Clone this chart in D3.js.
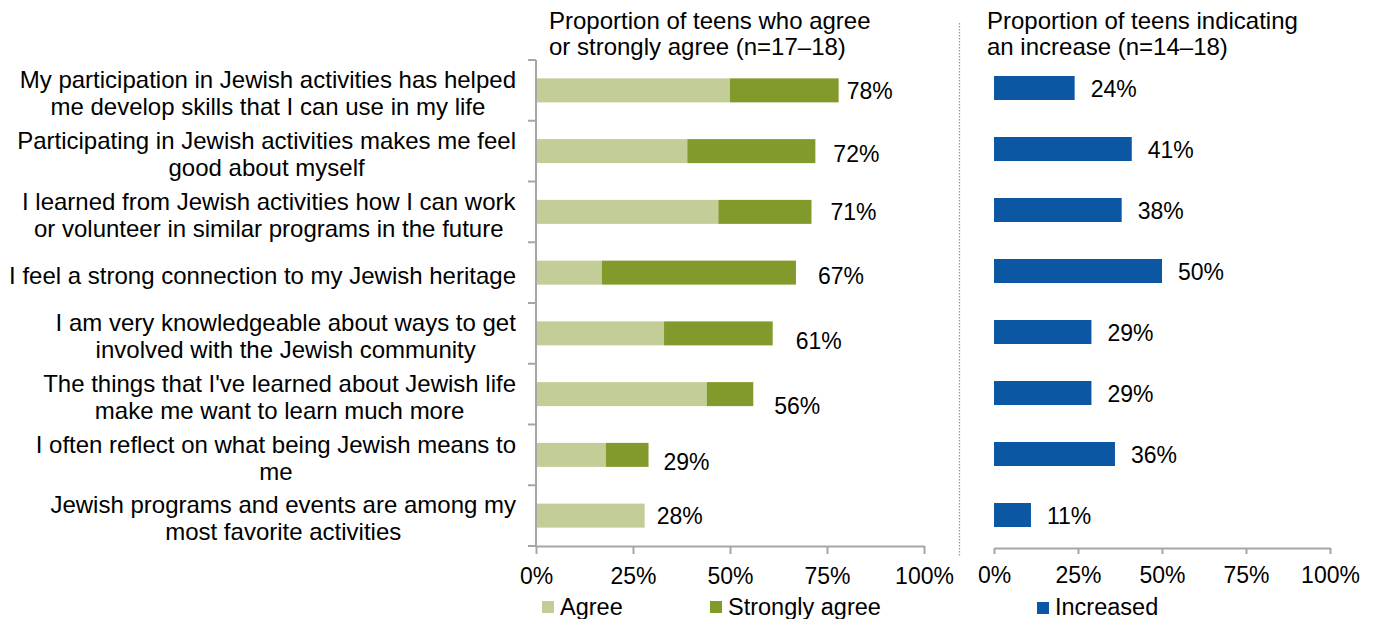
<!DOCTYPE html>
<html>
<head>
<meta charset="utf-8">
<script src="https://cdn.jsdelivr.net/npm/d3@7"></script>
<style>
  html, body { margin: 0; padding: 0; background: #fff; }
  svg { display: block; font-family: "Liberation Sans", Arial, sans-serif; }
</style>
</head>
<body>
<svg id="chart" width="1375" height="619"></svg>
<script>
// Survey statements (line breaks as wrapped in the layout)
const statements = [
  ["My participation in Jewish activities has helped", "me develop skills that I can use in my life"],
  ["Participating in Jewish activities makes me feel", "good about myself"],
  ["I learned from Jewish activities how I can work", "or volunteer in similar programs in the future"],
  ["I feel a strong connection to my Jewish heritage"],
  ["I am very knowledgeable about ways to get", "involved with the Jewish community"],
  ["The things that I've learned about Jewish life", "make me want to learn much more"],
  ["I often reflect on what being Jewish means to", "me"],
  ["Jewish programs and events are among my", "most favorite activities"]
];

// Percent who agree, and percent who agree or strongly agree (total)
const agree      = [50, 39, 47, 17, 33, 44, 18, 28];
const agreeTotal = [78, 72, 71, 67, 61, 56, 29, 28];
// Percent indicating an increase
const increased  = [24, 41, 38, 50, 29, 29, 36, 11];

const xTicks = [0, 25, 50, 75, 100];
const leftTitle  = ["Proportion of teens who agree", "or strongly agree (n=17\u201318)"];
const rightTitle = ["Proportion of teens indicating", "an increase (n=14\u201318)"];
const legendLeft  = ["Agree", "Strongly agree"];
const legendRight = ["Increased"];

// Hand-placed offsets of the total labels ([dx past bar end, dy from centre])
const totalLabelNudge = [[8,0],[18,3],[19,0],[22,3],[23,7],[21,12],[15,6.5],[12,0]];

const colors = { agree: "#c3cd97", strong: "#82992b", increased: "#0b57a4", axis: "#a6a6a6", text: "#000" };
const numFont = "23px";
const textFont = "24px";
const barH = 24;

const svg = d3.select("#chart");
const idx = d3.range(statements.length);

// ---------- Left panel ----------
const xL = d3.scaleLinear().domain([0, 100]).range([536, 924]);
const yL = d3.scaleBand().domain(idx).range([60, 546]);
const gL = svg.append("g");

// stacked bars
gL.selectAll("rect.agree").data(idx).join("rect")
  .attr("x", xL(0))
  .attr("y", i => yL(i) + (yL.bandwidth() - barH) / 2)
  .attr("width", i => xL(agree[i]) - xL(0))
  .attr("height", barH)
  .attr("fill", colors.agree);

gL.selectAll("rect.strong").data(idx.filter(i => agreeTotal[i] > agree[i])).join("rect")
  .attr("x", i => xL(agree[i]))
  .attr("y", i => yL(i) + (yL.bandwidth() - barH) / 2)
  .attr("width", i => xL(agreeTotal[i]) - xL(agree[i]))
  .attr("height", barH)
  .attr("fill", colors.strong);

// total labels
gL.selectAll("text.total").data(idx).join("text")
  .attr("x", i => xL(agreeTotal[i]) + totalLabelNudge[i][0])
  .attr("y", i => yL(i) + yL.bandwidth() / 2 + totalLabelNudge[i][1])
  .attr("dy", "0.36em")
  .attr("font-size", numFont)
  .attr("fill", colors.text)
  .text(i => agreeTotal[i] + "%");

// y axis line with tick marks between categories
const yAxisL = svg.append("g");
yAxisL.append("line")
  .attr("x1", xL(0)).attr("x2", xL(0))
  .attr("y1", yL.range()[0]).attr("y2", yL.range()[1])
  .attr("stroke", colors.axis).attr("stroke-width", 2);
const boundaries = idx.map(i => yL(i)).concat([yL.range()[1]]);
yAxisL.selectAll("line.tick").data(boundaries).join("line")
  .attr("x1", xL(0) - 8).attr("x2", xL(0))
  .attr("y1", d => d).attr("y2", d => d)
  .attr("stroke", colors.axis).attr("stroke-width", 2);

// x axis
const xAxisL = svg.append("g")
  .attr("transform", `translate(0,${yL.range()[1]})`)
  .call(d3.axisBottom(xL).tickValues(xTicks).tickFormat(d => d + "%").tickSize(8).tickSizeOuter(0));
xAxisL.select(".domain").attr("stroke", colors.axis).attr("stroke-width", 2);
xAxisL.selectAll(".tick line").attr("stroke", colors.axis).attr("stroke-width", 2);
xAxisL.selectAll(".tick text")
  .attr("font-size", numFont).attr("font-family", "Liberation Sans, Arial, sans-serif")
  .attr("fill", colors.text).attr("y", 38).attr("dy", 0);

// category labels: lines centred on each other, block right-aligned
const labelRight = 516;
const lineGap = 27;
statements.forEach((lines, i) => {
  const g = svg.append("g");
  const cy = yL(i) + yL.bandwidth() / 2 + 2.5;
  const t = g.append("text")
    .attr("text-anchor", "middle")
    .attr("font-size", textFont)
    .attr("fill", colors.text);
  lines.forEach((ln, k) => {
    t.append("tspan")
      .attr("x", 0)
      .attr("y", cy - (lines.length - 1) * lineGap / 2 + k * lineGap)
      .attr("dy", "0.36em")
      .text(ln);
  });
  const w = t.node().getBBox().width;
  g.attr("transform", `translate(${labelRight - w / 2},0)`);
});

// left title
svg.append("text")
  .attr("font-size", textFont).attr("fill", colors.text)
  .selectAll("tspan").data(leftTitle).join("tspan")
  .attr("x", 549).attr("y", (d, k) => 29 + k * 25.5)
  .text(d => d);

// left legend
const legL = svg.append("g");
[[542, colors.agree], [710, colors.strong]].forEach(([x, c], k) => {
  legL.append("rect").attr("x", x).attr("y", 601).attr("width", 12).attr("height", 12).attr("fill", c);
  legL.append("text").attr("x", x + 18).attr("y", 615)
    .attr("font-size", "23.5px").attr("fill", colors.text).text(legendLeft[k]);
});

// ---------- Separator ----------
svg.append("line")
  .attr("x1", 959.5).attr("x2", 959.5).attr("y1", 23).attr("y2", 556)
  .attr("stroke", "#9a9a9a").attr("stroke-width", 1.3).attr("stroke-dasharray", "1.5,1.5");

// ---------- Right panel ----------
const xR = d3.scaleLinear().domain([0, 100]).range([994, 1330]);
const yR = d3.scaleBand().domain(idx).range([57.5, 545.5]);
const gR = svg.append("g");

gR.selectAll("rect").data(idx).join("rect")
  .attr("x", xR(0))
  .attr("y", i => yR(i) + (yR.bandwidth() - barH) / 2)
  .attr("width", i => xR(increased[i]) - xR(0))
  .attr("height", barH)
  .attr("fill", colors.increased);

gR.selectAll("text").data(idx).join("text")
  .attr("x", i => xR(increased[i]) + 16)
  .attr("y", i => yR(i) + yR.bandwidth() / 2 + 1)
  .attr("dy", "0.36em")
  .attr("font-size", numFont)
  .attr("fill", colors.text)
  .text(i => increased[i] + "%");

const xAxisR = svg.append("g")
  .attr("transform", "translate(0,548)")
  .call(d3.axisBottom(xR).tickValues(xTicks).tickFormat(d => d + "%").tickSize(6).tickSizeOuter(0));
xAxisR.select(".domain").attr("stroke", colors.axis).attr("stroke-width", 2);
xAxisR.selectAll(".tick line").attr("stroke", colors.axis).attr("stroke-width", 2);
xAxisR.selectAll(".tick text")
  .attr("font-size", numFont).attr("font-family", "Liberation Sans, Arial, sans-serif")
  .attr("fill", colors.text).attr("y", 35).attr("dy", 0);

svg.append("text")
  .attr("font-size", textFont).attr("fill", colors.text)
  .selectAll("tspan").data(rightTitle).join("tspan")
  .attr("x", 987).attr("y", (d, k) => 29 + k * 25.5)
  .text(d => d);

const legR = svg.append("g");
legR.append("rect").attr("x", 1037).attr("y", 602).attr("width", 12).attr("height", 12).attr("fill", colors.increased);
legR.append("text").attr("x", 1055).attr("y", 615)
  .attr("font-size", "23.5px").attr("fill", colors.text).text(legendRight[0]);
</script>
</body>
</html>
